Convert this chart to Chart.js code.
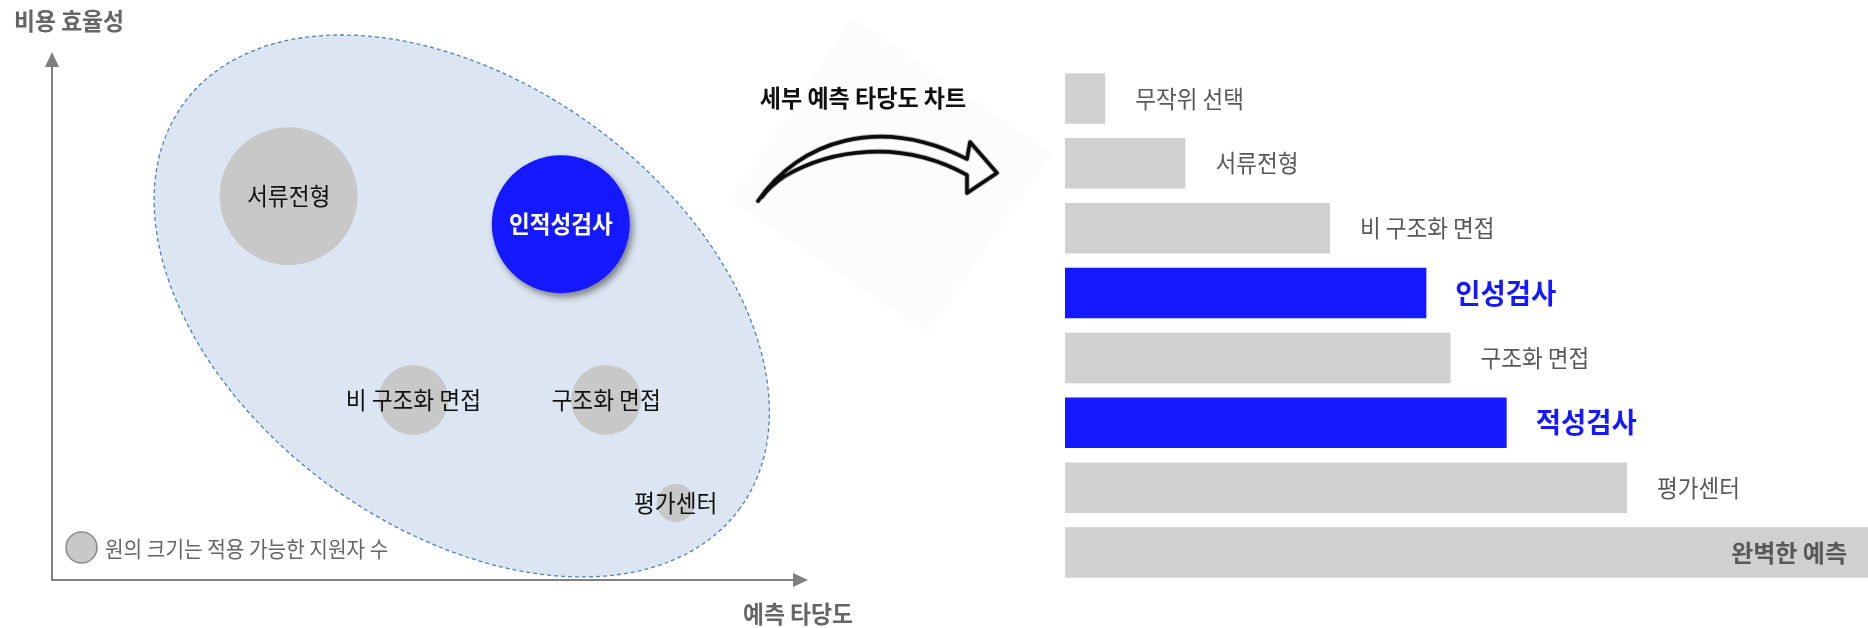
<!DOCTYPE html>
<html>
<head>
<meta charset="utf-8">
<script src="https://cdn.jsdelivr.net/npm/chart.js@4"></script>
<style>
  html, body { margin: 0; padding: 0; background: #ffffff; }
  body { width: 1868px; height: 628px; position: relative; overflow: hidden; }
  canvas { position: absolute; left: 0; top: 0; }
</style>
</head>
<body>
<canvas id="bubbleChart" width="1868" height="628"></canvas>
<canvas id="barChart" width="1868" height="628"></canvas>
<script>
// ---------- DATA ----------
// Left: bubble chart (x = 예측 타당도, y = 비용 효율성, r = 적용 가능한 지원자 수)
const bubbleLabels = ['서류전형', '인적성검사', '비 구조화 면접', '구조화 면접', '평가센터'];
const bubbleX = [31.3, 67.3, 47.8, 73.3, 82.5];
const bubbleY = [72.7, 67.4, 34.1, 34.1, 14.6];
const bubbleR = [69, 69, 35, 35, 19];
const bubbleHighlight = [false, true, false, false, false];

// Grouping ellipse (center in data units)
const groupCenter = [54.2, 51.9];

// Axis titles / legend
const yAxisTitle = '비용 효율성';
const xAxisTitle = '예측 타당도';
const legendText = '원의 크기는 적용 가능한 지원자 수';

// Right: detailed predictive validity bar chart
const chartTitle = '세부 예측 타당도 차트';
const barCategories = ['무작위 선택', '서류전형', '비 구조화 면접', '인성검사', '구조화 면접', '적성검사', '평가센터', '완벽한 예측'];
const barValues = [0.05, 0.15, 0.33, 0.45, 0.48, 0.55, 0.70, 1.00];
const barHighlight = [false, false, false, true, false, true, false, false];

// ---------- STYLE ----------
const BLUE = '#1419ff';
const GRAY_BAR = '#d0d0d0';
const GRAY_BUBBLE = '#c8c8c8';
const FONT = '"Noto Sans CJK KR", "Noto Sans", sans-serif';

function drawText(ctx, text, x, y, o) {
  ctx.save();
  ctx.font = (o.weight || 'normal') + ' ' + o.size + 'px ' + FONT;
  ctx.fillStyle = o.color;
  ctx.textBaseline = 'middle';
  ctx.textAlign = o.align || 'left';
  ctx.translate(x, y);
  ctx.scale(o.sx || 1, 1);
  ctx.fillText(text, 0, 0);
  ctx.restore();
}

// ---------- LEFT CHART ----------
const bubbleDecor = {
  id: 'bubbleDecor',
  beforeDatasetsDraw(chart) {
    const ctx = chart.ctx;
    const xs = chart.scales.x, ys = chart.scales.y;
    const cx = xs.getPixelForValue(groupCenter[0]);
    const cy = ys.getPixelForValue(groupCenter[1]);
    ctx.save();
    ctx.beginPath();
    ctx.ellipse(cx, cy, 344, 223, 36 * Math.PI / 180, 0, Math.PI * 2);
    ctx.fillStyle = '#dce6f2';
    ctx.fill();
    ctx.setLineDash([4, 3]);
    ctx.lineWidth = 1.3;
    ctx.strokeStyle = '#4f81bd';
    ctx.stroke();
    ctx.restore();

    // axes with arrows
    const a = chart.chartArea;
    ctx.save();
    ctx.strokeStyle = '#808080';
    ctx.fillStyle = '#808080';
    ctx.lineWidth = 2;
    ctx.beginPath();
    ctx.moveTo(a.left, a.top + 10);
    ctx.lineTo(a.left, a.bottom);
    ctx.lineTo(a.right - 10, a.bottom);
    ctx.stroke();
    ctx.beginPath();
    ctx.moveTo(a.left, a.top);
    ctx.lineTo(a.left - 7, a.top + 15);
    ctx.lineTo(a.left + 7, a.top + 15);
    ctx.closePath();
    ctx.fill();
    ctx.beginPath();
    ctx.moveTo(a.right, a.bottom);
    ctx.lineTo(a.right - 15, a.bottom - 7);
    ctx.lineTo(a.right - 15, a.bottom + 7);
    ctx.closePath();
    ctx.fill();
    ctx.restore();

    drawText(ctx, yAxisTitle, 14, 21, {size: 24, weight: 'bold', color: '#666666', sx: 0.95});
    drawText(ctx, xAxisTitle, 798, 614, {size: 24, weight: 'bold', color: '#666666', sx: 0.95, align: 'center'});

    // legend
    ctx.save();
    ctx.beginPath();
    ctx.arc(a.left + 29.5, a.bottom - 32.5, 15.5, 0, Math.PI * 2);
    ctx.fillStyle = GRAY_BUBBLE;
    ctx.fill();
    ctx.lineWidth = 1.5;
    ctx.strokeStyle = '#8a8a8a';
    ctx.stroke();
    ctx.restore();
    drawText(ctx, legendText, a.left + 53, a.bottom - 31, {size: 22, color: '#666666', sx: 0.92});
  },
  beforeDatasetDraw(chart, args) {
    const ctx = chart.ctx;
    ctx.save();
    if (args.index === 1) {
      ctx.shadowColor = 'rgba(0,0,0,0.45)';
      ctx.shadowBlur = 7;
      ctx.shadowOffsetX = 3;
      ctx.shadowOffsetY = 4;
    }
  },
  afterDatasetDraw(chart) {
    chart.ctx.restore();
  },
  afterDatasetsDraw(chart) {
    const ctx = chart.ctx;
    chart.data.datasets.forEach((ds, di) => {
      const meta = chart.getDatasetMeta(di);
      meta.data.forEach((el, i) => {
        const p = ds.data[i];
        const hl = ds.highlight;
        drawText(ctx, p.label, el.x, el.y, hl
          ? {size: 24, weight: 'bold', color: '#ffffff', sx: 0.94, align: 'center'}
          : {size: 24, color: '#111111', sx: 0.945, align: 'center'});
      });
    });
  }
};

const grayPts = [], bluePts = [];
bubbleLabels.forEach((lab, i) => {
  const pt = {x: bubbleX[i], y: bubbleY[i], r: bubbleR[i], label: lab};
  (bubbleHighlight[i] ? bluePts : grayPts).push(pt);
});

new Chart(document.getElementById('bubbleChart'), {
  type: 'bubble',
  data: {
    datasets: [
      {data: grayPts, backgroundColor: GRAY_BUBBLE, borderWidth: 0, highlight: false, clip: false},
      {data: bluePts, backgroundColor: BLUE, borderWidth: 0, highlight: true, clip: false}
    ]
  },
  options: {
    responsive: false,
    animation: false,
    events: [],
    layout: {autoPadding: false, padding: {left: 52, right: 1060, top: 52, bottom: 48}},
    plugins: {legend: {display: false}, tooltip: {enabled: false}},
    scales: {
      x: {display: false, min: 0, max: 100},
      y: {display: false, min: 0, max: 100}
    }
  },
  plugins: [bubbleDecor]
});

// ---------- RIGHT CHART ----------
const barDecor = {
  id: 'barDecor',
  beforeDatasetsDraw(chart) {
    const ctx = chart.ctx;
    // faint rotated backdrop behind arrow
    ctx.save();
    ctx.beginPath();
    ctx.moveTo(853, 18);
    ctx.lineTo(1052, 153);
    ctx.lineTo(927, 333);
    ctx.lineTo(730, 200);
    ctx.closePath();
    ctx.fillStyle = '#fcfcfc';
    ctx.fill();
    ctx.restore();

    drawText(ctx, chartTitle, 863, 98, {size: 23.5, weight: 'bold', color: '#111111', sx: 0.98, align: 'center'});

    // hand-drawn style curved arrow (soft halo + ink stroke)
    const arrowPath = () => {
      ctx.beginPath();
      ctx.moveTo(758, 201);
      ctx.bezierCurveTo(800, 140, 880, 115, 967, 159);
      ctx.lineTo(970, 142);
      ctx.lineTo(997, 173);
      ctx.lineTo(967, 193);
      ctx.lineTo(967, 175);
      ctx.bezierCurveTo(900, 138, 830, 150, 785, 176);
      ctx.quadraticCurveTo(770, 186, 762, 197);
    };
    ctx.save();
    ctx.lineJoin = 'round';
    ctx.lineCap = 'round';
    ctx.strokeStyle = 'rgba(0,0,0,0.25)';
    ctx.lineWidth = 5.5;
    arrowPath();
    ctx.stroke();
    ctx.strokeStyle = '#0d0d0d';
    ctx.lineWidth = 3.6;
    arrowPath();
    ctx.stroke();
    ctx.restore();
  },
  afterDatasetsDraw(chart) {
    const ctx = chart.ctx;
    const meta = chart.getDatasetMeta(0);
    const a = chart.chartArea;
    meta.data.forEach((el, i) => {
      const lab = barCategories[i];
      if (i === barCategories.length - 1) {
        drawText(ctx, lab, a.right - 21, el.y, {size: 24, weight: 'bold', color: '#595959', sx: 1.0, align: 'right'});
      } else if (barHighlight[i]) {
        drawText(ctx, lab, el.x + 29, el.y, {size: 28, weight: 'bold', color: BLUE, sx: 0.98});
      } else {
        drawText(ctx, lab, el.x + 30, el.y, {size: 24, color: '#595959', sx: 0.94});
      }
    });
  }
};

new Chart(document.getElementById('barChart'), {
  type: 'bar',
  data: {
    labels: barCategories,
    datasets: [{
      data: barValues,
      backgroundColor: barHighlight.map(h => h ? BLUE : GRAY_BAR),
      borderWidth: 0,
      barPercentage: 0.778,
      categoryPercentage: 1
    }]
  },
  options: {
    indexAxis: 'y',
    responsive: false,
    animation: false,
    events: [],
    layout: {padding: {left: 1065, right: 0, top: 66, bottom: 43}},
    plugins: {legend: {display: false}, tooltip: {enabled: false}},
    scales: {
      x: {display: false, min: 0, max: 1},
      y: {display: false}
    }
  },
  plugins: [barDecor]
});
</script>
</body>
</html>
